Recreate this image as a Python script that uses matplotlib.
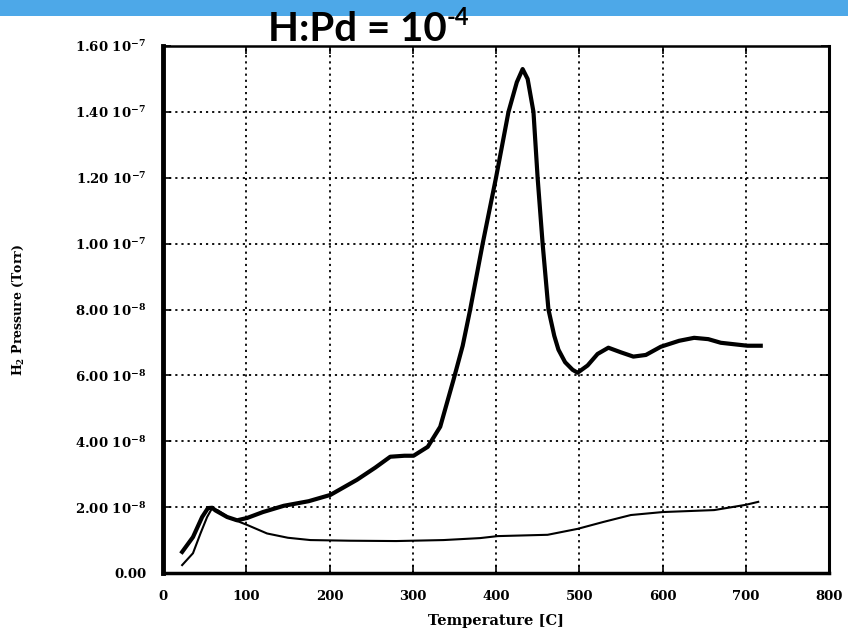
import matplotlib
matplotlib.use('Agg')
import matplotlib.pyplot as plt
from matplotlib.patches import Rectangle

plt.rcParams['mathtext.fontset'] = 'dejavuserif'
plt.rcParams['mathtext.default'] = 'bf'

# heating run (thick), temperature in C, pressure in units of 1e-8 Torr
heat_T = [23, 36, 47, 54, 59, 63, 77, 89, 101, 120, 145, 175, 201, 233, 255,
          273, 290, 301, 318, 333, 349, 360, 369, 384, 400, 415, 425, 432,
          438, 445, 450, 456, 463, 470, 475, 483, 492, 498, 510, 522, 535,
          550, 565, 580, 598, 620, 638, 655, 670, 702, 718]
heat_P = [0.64, 1.09, 1.7, 1.97, 1.98, 1.9, 1.7, 1.6, 1.67, 1.85, 2.04, 2.18,
          2.37, 2.83, 3.2, 3.53, 3.56, 3.56, 3.83, 4.44, 5.87, 6.9, 8.0, 10.0,
          12.0, 14.0, 14.9, 15.3, 15.0, 14.0, 12.0, 10.0, 8.0, 7.2, 6.78, 6.4,
          6.17, 6.08, 6.3, 6.65, 6.84, 6.7, 6.57, 6.62, 6.87, 7.05, 7.14, 7.1,
          6.99, 6.9, 6.9]

# cooling run (thin)
cool_T = [23, 36, 45, 53, 59, 66, 80, 101, 125, 150, 177, 225, 280, 337, 381,
          402, 462, 498, 529, 562, 600, 662, 700, 715]
cool_P = [0.24, 0.6, 1.2, 1.7, 1.97, 1.9, 1.67, 1.46, 1.2, 1.07, 1.0, 0.98,
          0.97, 1.0, 1.06, 1.12, 1.16, 1.34, 1.55, 1.76, 1.85, 1.91, 2.07, 2.16]

x_ticks = [0, 100, 200, 300, 400, 500, 600, 700, 800]
y_ticks = [0, 2e-8, 4e-8, 6e-8, 8e-8, 1e-7, 1.2e-7, 1.4e-7, 1.6e-7]
y_labels = ['0.00', '2.00 10$^{-8}$', '4.00 10$^{-8}$', '6.00 10$^{-8}$',
            '8.00 10$^{-8}$', '1.00 10$^{-7}$', '1.20 10$^{-7}$',
            '1.40 10$^{-7}$', '1.60 10$^{-7}$']

fig = plt.figure(figsize=(8.48, 6.34), dpi=100)
fig.patches.append(Rectangle((0, 1 - 16 / 634), 1, 16 / 634, transform=fig.transFigure,
                             facecolor='#4da8e8', edgecolor='none', zorder=0))

ax = fig.add_axes([163 / 848, 61 / 634, 666 / 848, 527 / 634])

ax.plot(cool_T, [p * 1e-8 for p in cool_P], color='black', lw=1.5, zorder=3)
ax.plot(heat_T, [p * 1e-8 for p in heat_P], color='black', lw=3.0, zorder=4)

ax.set_xlim(0, 800)
ax.set_ylim(0, 1.6e-7)
ax.set_xticks(x_ticks)
ax.set_xticklabels([str(t) for t in x_ticks])
ax.set_yticks(y_ticks)
ax.set_yticklabels(y_labels)

for lab in ax.get_xticklabels() + ax.get_yticklabels():
    lab.set_fontfamily('DejaVu Serif')
    lab.set_fontweight('bold')
    lab.set_fontsize(9.5)

ax.tick_params(direction='in', length=6, width=1.2, top=True, right=True)
ax.tick_params(axis='x', pad=12)
ax.tick_params(axis='y', pad=12)

ax.grid(True, color='black', linestyle=(0, (1.2, 2.2)), linewidth=1.3)
ax.set_axisbelow(True)

ax.spines['left'].set_linewidth(3.5)
ax.spines['bottom'].set_linewidth(2.5)
ax.spines['top'].set_linewidth(1.8)
ax.spines['right'].set_linewidth(2.2)

ax.set_xlabel('Temperature [C]', fontfamily='DejaVu Serif', fontweight='bold',
              fontsize=10.5, labelpad=8)
ax.set_ylabel('H$_2$ Pressure (Torr)', fontfamily='DejaVu Serif', fontweight='bold',
              fontsize=9)
ax.yaxis.set_label_coords((26 - 163) / 666, 0.5)

fig.text(268 / 848, (634 - 41) / 634, 'H:Pd = 10', fontfamily='Lato',
         fontweight='bold', fontsize=29, ha='left', va='baseline')
fig.text(447 / 848, (634 - 25) / 634, '-4', fontfamily='Lato',
         fontweight='bold', fontsize=17, ha='left', va='baseline')

fig.savefig('out.png', dpi=100)
